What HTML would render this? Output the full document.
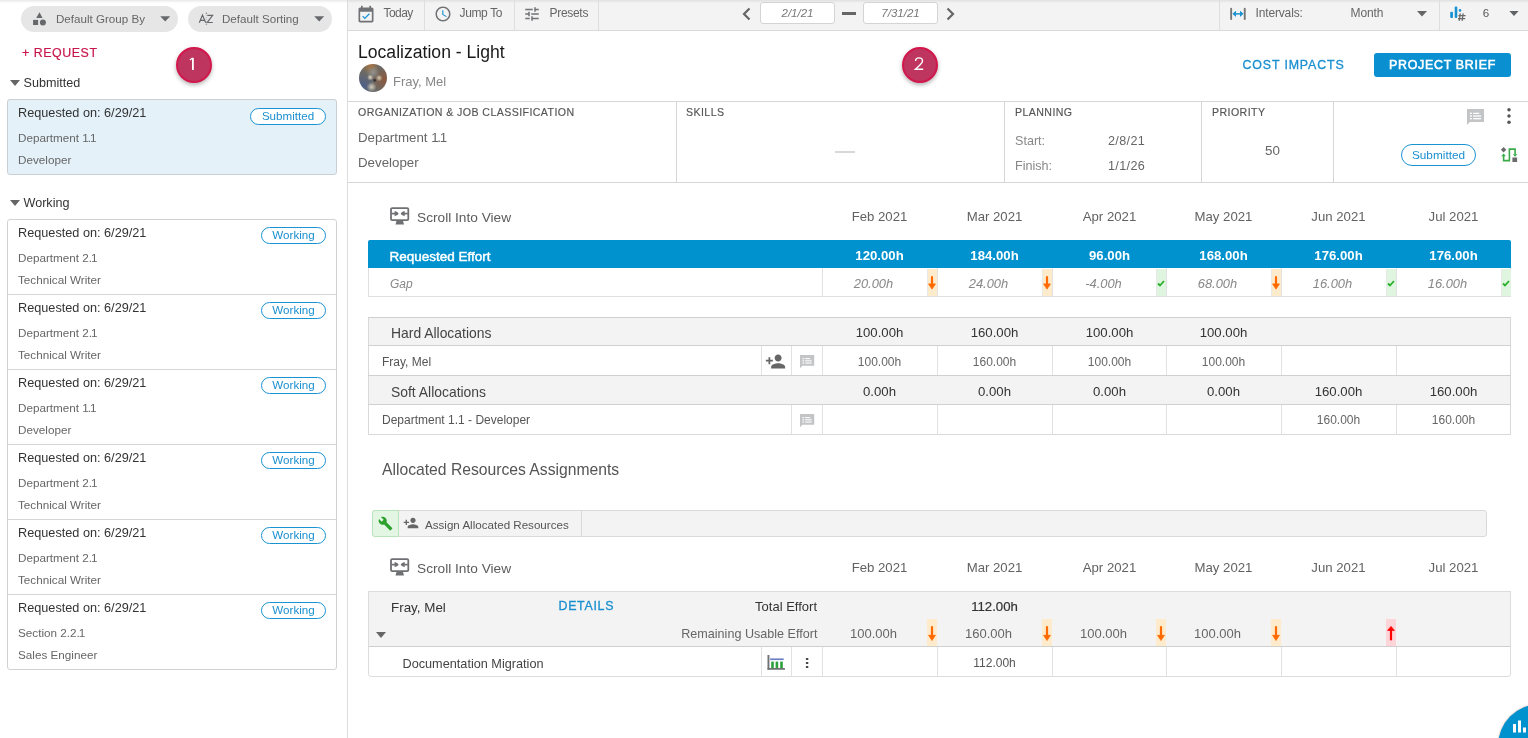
<!DOCTYPE html>
<html><head><meta charset="utf-8"><style>
html,body{margin:0;padding:0;width:1528px;height:738px;overflow:hidden;background:#fff;}
body{position:relative;font-family:"Liberation Sans",sans-serif;}
#w{position:absolute;left:0;top:0;width:1528px;height:738px;will-change:transform;}
.t{position:absolute;white-space:nowrap;}
.r{position:absolute;}
</style></head><body><div id="w">
<div class="r" style="left:0px;top:0px;width:347px;height:3px;background:linear-gradient(#e8e8e8, rgba(255,255,255,0))"></div>
<div class="r" style="left:21px;top:6px;width:157px;height:26px;background:#e6e6e6;border-radius:13px"></div>
<div class="r" style="left:188px;top:6px;width:144px;height:26px;background:#e6e6e6;border-radius:13px"></div>
<svg class="r" style="left:32px;top:10px" width="15" height="17" viewBox="0 0 15 17"><path d="M7.5 2.3 L10.5 7.9 H4.2Z" fill="#66686c"/><rect x="1.1" y="9.9" width="5" height="5.1" fill="#66686c"/><circle cx="10.9" cy="12.6" r="3" fill="#66686c"/></svg>
<div class="t" style="left:56px;top:10.98px;font-size:11.6px;line-height:16px;color:#666;">Default Group By</div>
<svg class="r" style="left:160px;top:15.5px" width="11" height="7" viewBox="0 0 11 7"><path d="M0.2 0.3 L10.2 0.3 L5.2 5.6Z" fill="#66686c"/></svg>
<svg class="r" style="left:197px;top:11px" width="18" height="16" viewBox="0 0 18 16"><path d="M2.3 11.8 L5.5 4 L8.7 11.8 M3.4 9.3 H7.6 M10.3 4.3 H15.6 L10.3 11.5 H15.8" stroke="#66686c" stroke-width="1.2" fill="none"/><path d="M8.3 2.4 L9.4 1.6 L10.5 2.4Z M8.3 13.2 L9.4 14 L10.5 13.2Z" fill="#66686c"/><path d="M9.4 2.2 V13.5" stroke="#66686c" stroke-width="0.4" stroke-dasharray="0.8 1.2"/></svg>
<div class="t" style="left:222px;top:10.98px;font-size:11.6px;line-height:16px;color:#666;">Default Sorting</div>
<svg class="r" style="left:314px;top:15.5px" width="11" height="7" viewBox="0 0 11 7"><path d="M0.2 0.3 L10.2 0.3 L5.2 5.6Z" fill="#66686c"/></svg>
<div class="t" style="left:22px;top:44.50px;font-size:12.4px;line-height:17px;color:#c8174b;letter-spacing:0.55px;-webkit-text-stroke:0.2px #c8174b;">+ REQUEST</div>
<svg class="r" style="left:10px;top:80px" width="10" height="6" viewBox="0 0 10 6"><path d="M0 0 L10 0 L5 6Z" fill="#666"/></svg>
<div class="t" style="left:23.5px;top:73.83px;font-size:12.6px;line-height:18px;color:#333;">Submitted</div>
<div class="r" style="left:7px;top:99px;width:330px;height:76px;box-sizing:border-box;background:#e4f1f9;border:1px solid #c9cfd3;border-radius:3px"></div>
<div class="t" style="left:18px;top:103.60px;font-size:12.7px;line-height:18px;color:#333;">Requested on: 6/29/21</div>
<div class="t" style="left:18px;top:129.95px;font-size:11.7px;line-height:16px;color:#666;">Department <span style="letter-spacing:-1.1px">1</span><span style="letter-spacing:-1.1px">.</span>1</div>
<div class="t" style="left:18px;top:152.25px;font-size:11.7px;line-height:16px;color:#666;">Developer</div>
<div class="r" style="left:250px;top:108px;width:76px;height:17px;box-sizing:border-box;background:#fff;border:1.3px solid #1a93d2;border-radius:9px"></div>
<div class="t" style="left:250px;top:107.98px;font-size:11.6px;line-height:16px;color:#1a8fcf;width:76px;text-align:center;">Submitted</div>
<svg class="r" style="left:10px;top:200px" width="10" height="6" viewBox="0 0 10 6"><path d="M0 0 L10 0 L5 6Z" fill="#666"/></svg>
<div class="t" style="left:23.5px;top:193.83px;font-size:12.6px;line-height:18px;color:#333;">Working</div>
<div class="r" style="left:7px;top:219px;width:330px;height:451px;box-sizing:border-box;background:#fff;border:1px solid #cfd3d6;border-radius:3px"></div>
<div class="t" style="left:18px;top:223.60px;font-size:12.7px;line-height:18px;color:#333;">Requested on: 6/29/21</div>
<div class="t" style="left:18px;top:249.95px;font-size:11.7px;line-height:16px;color:#666;">Department 2<span style="letter-spacing:-1.1px">.</span>1</div>
<div class="t" style="left:18px;top:272.25px;font-size:11.7px;line-height:16px;color:#666;">Technical Writer</div>
<div class="r" style="left:261px;top:227px;width:65px;height:17px;box-sizing:border-box;background:#fff;border:1.3px solid #1a93d2;border-radius:9px"></div>
<div class="t" style="left:261px;top:226.98px;font-size:11.6px;line-height:16px;color:#1a8fcf;width:65px;text-align:center;">Working</div>
<div class="r" style="left:8px;top:294px;width:328px;height:1px;background:#d5d5d5"></div>
<div class="t" style="left:18px;top:298.60px;font-size:12.7px;line-height:18px;color:#333;">Requested on: 6/29/21</div>
<div class="t" style="left:18px;top:324.95px;font-size:11.7px;line-height:16px;color:#666;">Department 2<span style="letter-spacing:-1.1px">.</span>1</div>
<div class="t" style="left:18px;top:347.25px;font-size:11.7px;line-height:16px;color:#666;">Technical Writer</div>
<div class="r" style="left:261px;top:302px;width:65px;height:17px;box-sizing:border-box;background:#fff;border:1.3px solid #1a93d2;border-radius:9px"></div>
<div class="t" style="left:261px;top:301.98px;font-size:11.6px;line-height:16px;color:#1a8fcf;width:65px;text-align:center;">Working</div>
<div class="r" style="left:8px;top:369px;width:328px;height:1px;background:#d5d5d5"></div>
<div class="t" style="left:18px;top:373.60px;font-size:12.7px;line-height:18px;color:#333;">Requested on: 6/29/21</div>
<div class="t" style="left:18px;top:399.95px;font-size:11.7px;line-height:16px;color:#666;">Department <span style="letter-spacing:-1.1px">1</span><span style="letter-spacing:-1.1px">.</span>1</div>
<div class="t" style="left:18px;top:422.25px;font-size:11.7px;line-height:16px;color:#666;">Developer</div>
<div class="r" style="left:261px;top:377px;width:65px;height:17px;box-sizing:border-box;background:#fff;border:1.3px solid #1a93d2;border-radius:9px"></div>
<div class="t" style="left:261px;top:376.98px;font-size:11.6px;line-height:16px;color:#1a8fcf;width:65px;text-align:center;">Working</div>
<div class="r" style="left:8px;top:444px;width:328px;height:1px;background:#d5d5d5"></div>
<div class="t" style="left:18px;top:448.60px;font-size:12.7px;line-height:18px;color:#333;">Requested on: 6/29/21</div>
<div class="t" style="left:18px;top:474.95px;font-size:11.7px;line-height:16px;color:#666;">Department 2<span style="letter-spacing:-1.1px">.</span>1</div>
<div class="t" style="left:18px;top:497.25px;font-size:11.7px;line-height:16px;color:#666;">Technical Writer</div>
<div class="r" style="left:261px;top:452px;width:65px;height:17px;box-sizing:border-box;background:#fff;border:1.3px solid #1a93d2;border-radius:9px"></div>
<div class="t" style="left:261px;top:451.98px;font-size:11.6px;line-height:16px;color:#1a8fcf;width:65px;text-align:center;">Working</div>
<div class="r" style="left:8px;top:519px;width:328px;height:1px;background:#d5d5d5"></div>
<div class="t" style="left:18px;top:523.60px;font-size:12.7px;line-height:18px;color:#333;">Requested on: 6/29/21</div>
<div class="t" style="left:18px;top:549.95px;font-size:11.7px;line-height:16px;color:#666;">Department 2<span style="letter-spacing:-1.1px">.</span>1</div>
<div class="t" style="left:18px;top:572.25px;font-size:11.7px;line-height:16px;color:#666;">Technical Writer</div>
<div class="r" style="left:261px;top:527px;width:65px;height:17px;box-sizing:border-box;background:#fff;border:1.3px solid #1a93d2;border-radius:9px"></div>
<div class="t" style="left:261px;top:526.98px;font-size:11.6px;line-height:16px;color:#1a8fcf;width:65px;text-align:center;">Working</div>
<div class="r" style="left:8px;top:594px;width:328px;height:1px;background:#d5d5d5"></div>
<div class="t" style="left:18px;top:598.60px;font-size:12.7px;line-height:18px;color:#333;">Requested on: 6/29/21</div>
<div class="t" style="left:18px;top:624.95px;font-size:11.7px;line-height:16px;color:#666;">Section 2.2<span style="letter-spacing:-1.1px">.</span>1</div>
<div class="t" style="left:18px;top:647.25px;font-size:11.7px;line-height:16px;color:#666;">Sales Engineer</div>
<div class="r" style="left:261px;top:602px;width:65px;height:17px;box-sizing:border-box;background:#fff;border:1.3px solid #1a93d2;border-radius:9px"></div>
<div class="t" style="left:261px;top:601.98px;font-size:11.6px;line-height:16px;color:#1a8fcf;width:65px;text-align:center;">Working</div>
<div class="r" style="left:347px;top:0px;width:1px;height:738px;background:#dcdcdc"></div>
<div class="r" style="left:348px;top:0px;width:1180px;height:30px;background:#f3f3f3;border-bottom:1px solid #d9d9d9"></div>
<div class="r" style="left:348px;top:0px;width:1180px;height:3px;background:linear-gradient(#e0e0e0, rgba(243,243,243,0))"></div>
<div class="r" style="left:424px;top:0px;width:1px;height:30px;background:#dedede"></div>
<div class="r" style="left:514px;top:0px;width:1px;height:30px;background:#dedede"></div>
<div class="r" style="left:598px;top:0px;width:1px;height:30px;background:#dedede"></div>
<div class="r" style="left:1219px;top:0px;width:1px;height:30px;background:#dedede"></div>
<div class="r" style="left:1439px;top:0px;width:1px;height:30px;background:#dedede"></div>
<svg class="r" style="left:356px;top:5px" width="20" height="20" viewBox="0 0 24 24"><path fill="#707275" d="M19 3h-1V1h-2v2H8V1H6v2H5c-1.11 0-1.99.9-1.99 2L3 19c0 1.1.89 2 2 2h14c1.1 0 2-.9 2-2V5c0-1.1-.9-2-2-2zm0 16H5V8h14v11z"/><path fill="#1a93d2" d="M16.53 11.06L15.47 10l-4.88 4.88-2.120-2.12-1.06 1.06L10.59 17l5.94-5.94z"/></svg>
<div class="t" style="left:383.5px;top:4.84px;font-size:12.0px;line-height:17px;color:#666;letter-spacing:-0.55px;">Today</div>
<svg class="r" style="left:434px;top:5px" width="18" height="18" viewBox="0 0 24 24"><path fill="#707275" d="M11.99 2C6.47 2 2 6.48 2 12s4.47 10 9.99 10C17.52 22 22 17.52 22 12S17.52 2 11.99 2zM12 20c-4.42 0-8-3.58-8-8s3.58-8 8-8 8 3.58 8 8-3.58 8-8 8z"/><path fill="#1a93d2" d="M12.5 7H11v6l5.25 3.15.75-1.23-4.5-2.67z"/></svg>
<div class="t" style="left:459.5px;top:4.84px;font-size:12.0px;line-height:17px;color:#666;letter-spacing:-0.35px;">Jump To</div>
<svg class="r" style="left:523px;top:5px" width="18" height="18" viewBox="0 0 24 24"><path fill="#707275" d="M3 17v2h6v-2H3zM3 5v2h10V5H3zm10 16v-2h8v-2h-8v-2h-2v6h2zM7 9v2H3v2h4v2h2V9H7zm14 4v-2H11v2h10zm-6-4h2V7h4V5h-4V3h-2v6z"/></svg>
<div class="t" style="left:549.5px;top:4.84px;font-size:12.0px;line-height:17px;color:#666;letter-spacing:-0.3px;">Presets</div>
<svg class="r" style="left:741px;top:7px" width="11" height="14" viewBox="0 0 11 14"><path d="M8.5 1.5 L3 7 L8.5 12.5" stroke="#666" stroke-width="2.2" fill="none"/></svg>
<div class="r" style="left:760px;top:2px;width:75px;height:22px;box-sizing:border-box;background:#fff;border:1px solid #d4d4d4;border-radius:3px"></div>
<div class="t" style="left:760px;top:5.02px;font-size:11.5px;line-height:16px;color:#777;font-style:italic;width:75px;text-align:center;">2/1/21</div>
<div class="r" style="left:842px;top:12px;width:14px;height:3px;background:#666"></div>
<div class="r" style="left:863px;top:2px;width:75px;height:22px;box-sizing:border-box;background:#fff;border:1px solid #d4d4d4;border-radius:3px"></div>
<div class="t" style="left:863px;top:5.02px;font-size:11.5px;line-height:16px;color:#777;font-style:italic;width:75px;text-align:center;">7/31/21</div>
<svg class="r" style="left:945px;top:7px" width="11" height="14" viewBox="0 0 11 14"><path d="M2.5 1.5 L8 7 L2.5 12.5" stroke="#666" stroke-width="2.2" fill="none"/></svg>
<svg class="r" style="left:1228px;top:6px" width="20" height="16" viewBox="0 0 20 16"><rect x="2.2" y="1.8" width="1.9" height="12.1" rx="0.9" fill="#777"/><rect x="15.8" y="1.8" width="1.9" height="12.1" rx="0.9" fill="#777"/><path d="M6.5 7.85 H13.5" stroke="#1a93d2" stroke-width="1.5"/><path d="M4.4 7.85 L8 4.8 V10.9Z M15.6 7.85 L12 4.8 V10.9Z" fill="#1a93d2"/></svg>
<div class="t" style="left:1255.5px;top:4.84px;font-size:12.0px;line-height:17px;color:#666;letter-spacing:-0.15px;">Intervals:</div>
<div class="t" style="left:1350.5px;top:4.84px;font-size:12.0px;line-height:17px;color:#666;letter-spacing:-0.1px;">Month</div>
<svg class="r" style="left:1417px;top:11px" width="10" height="6" viewBox="0 0 10 6"><path d="M0 0 L10 0 L5 5.5Z" fill="#666"/></svg>
<svg class="r" style="left:1448px;top:5px" width="20" height="18" viewBox="0 0 20 18"><rect x="2.2" y="6.8" width="2.8" height="6.2" rx="1" fill="#1a93d2"/><rect x="6.7" y="1.5" width="2.6" height="11.5" rx="1" fill="#1a93d2"/><circle cx="12" cy="5.4" r="1.3" fill="#1a93d2"/><path d="M12.3 8.4 L11.2 15.8 M15.2 8.4 L14.1 15.8 M10.4 10.6 H17.6 M10 13.6 H17.2" stroke="#6a6a6a" stroke-width="1.25"/></svg>
<div class="t" style="left:1482.8px;top:4.98px;font-size:11.6px;line-height:16px;color:#555;">6</div>
<svg class="r" style="left:1509px;top:11px" width="10" height="6" viewBox="0 0 10 6"><path d="M0.4 0 L9.6 0 L5 5Z" fill="#5f6366"/></svg>
<div class="t" style="left:358px;top:39.80px;font-size:17.6px;line-height:25px;color:#1a1a1a;">Localization - Light</div>
<div class="r" style="left:359px;top:64px;width:28px;height:28px;border-radius:50%;background:radial-gradient(circle at 56% 58%, rgba(20,20,25,0.9) 0%, rgba(20,20,25,0) 9%),radial-gradient(circle at 40% 48%, rgba(235,225,200,0.95) 0%, rgba(235,225,200,0) 14%),radial-gradient(circle at 72% 50%, rgba(225,215,185,0.9) 0%, rgba(225,215,185,0) 14%),radial-gradient(circle at 45% 82%, rgba(225,215,190,0.9) 0%, rgba(225,215,190,0) 18%),radial-gradient(circle at 50% 30%, rgba(150,150,145,0.9) 0%, rgba(150,150,145,0) 28%),radial-gradient(circle at 92% 55%, #8d5a3e 0%, rgba(141,90,62,0) 45%),radial-gradient(circle at 12% 78%, #4d6088 0%, rgba(77,96,136,0) 40%),radial-gradient(circle at 40% 5%, #a87440 0%, rgba(168,116,64,0) 30%),#6a6966"></div>
<div class="t" style="left:393px;top:72.50px;font-size:13px;line-height:18px;color:#888;">Fray, Mel</div>
<div class="t" style="left:1242.5px;top:56.70px;font-size:12.4px;line-height:17px;color:#1a8fcf;letter-spacing:0.85px;-webkit-text-stroke:0.3px #1a8fcf;">COST IMPACTS</div>
<div class="r" style="left:1374px;top:53px;width:137px;height:24px;background:#0a8fd0;border-radius:3px"></div>
<div class="t" style="left:1374px;top:56.70px;font-size:12.4px;line-height:17px;color:#fff;letter-spacing:0.72px;width:137px;text-align:center;-webkit-text-stroke:0.55px #fff;">PROJECT BRIEF</div>
<div class="r" style="left:348px;top:101px;width:1180px;height:1px;background:#d6d6d6"></div>
<div class="r" style="left:348px;top:182px;width:1180px;height:1px;background:#d6d6d6"></div>
<div class="r" style="left:676px;top:102px;width:1px;height:80px;background:#d6d6d6"></div>
<div class="r" style="left:1004px;top:102px;width:1px;height:80px;background:#d6d6d6"></div>
<div class="r" style="left:1201px;top:102px;width:1px;height:80px;background:#d6d6d6"></div>
<div class="r" style="left:1333px;top:102px;width:1px;height:80px;background:#d6d6d6"></div>
<div class="t" style="left:358px;top:104.73px;font-size:10.6px;line-height:15px;color:#555;letter-spacing:0.42px;-webkit-text-stroke:0.15px #555;">ORGANIZATION &amp; JOB CLASSIFICATION</div>
<div class="t" style="left:358px;top:127.89px;font-size:13.3px;line-height:19px;color:#666;">Department <span style="letter-spacing:-1.3px">1</span><span style="letter-spacing:-1.3px">.</span>1</div>
<div class="t" style="left:358px;top:152.89px;font-size:13.3px;line-height:19px;color:#666;">Developer</div>
<div class="t" style="left:686px;top:104.73px;font-size:10.6px;line-height:15px;color:#555;letter-spacing:0.42px;-webkit-text-stroke:0.15px #555;">SKILLS</div>
<div class="r" style="left:835px;top:151px;width:20px;height:2px;background:#d8d8d8"></div>
<div class="t" style="left:1015px;top:104.73px;font-size:10.6px;line-height:15px;color:#555;letter-spacing:0.42px;-webkit-text-stroke:0.15px #555;">PLANNING</div>
<div class="t" style="left:1015px;top:132.33px;font-size:12.6px;line-height:18px;color:#888;">Start:</div>
<div class="t" style="left:1108px;top:132.33px;font-size:12.6px;line-height:18px;color:#666;letter-spacing:0.35px;">2/8/21</div>
<div class="t" style="left:1015px;top:156.83px;font-size:12.6px;line-height:18px;color:#888;">Finish:</div>
<div class="t" style="left:1108px;top:156.83px;font-size:12.6px;line-height:18px;color:#666;letter-spacing:0.35px;">1/1/26</div>
<div class="t" style="left:1212px;top:104.73px;font-size:10.6px;line-height:15px;color:#555;letter-spacing:0.42px;-webkit-text-stroke:0.15px #555;">PRIORITY</div>
<div class="t" style="left:1207px;top:140.86px;font-size:13.4px;line-height:19px;color:#666;width:131px;text-align:center;">50</div>
<svg class="r" style="left:1467.1px;top:108.5px" width="18" height="17" viewBox="0 0 18 17"><g transform="scale(1.2)"><path d="M0 0.3 Q0 0 0.3 0 H13.9 Q14.2 0 14.2 0.3 V10.5 Q14.2 10.8 13.9 10.8 H2.4 L0 13.3Z" fill="#c3c4c6"/><g fill="#fff"><rect x="2.4" y="3.1" width="1.8" height="1.1"/><rect x="5.2" y="3.1" width="5" height="1.1"/><rect x="2.4" y="5.3" width="1.8" height="1.1"/><rect x="5.2" y="5.3" width="6.5" height="1.1"/><rect x="2.4" y="7.5" width="1.8" height="1.1"/><rect x="5.2" y="7.5" width="6.5" height="1.1"/></g></g></svg>
<svg class="r" style="left:1505px;top:106px" width="8" height="20" viewBox="0 0 8 20"><circle cx="4" cy="3.7" r="1.75" fill="#555"/><circle cx="4" cy="10" r="1.75" fill="#555"/><circle cx="4" cy="16.3" r="1.75" fill="#555"/></svg>
<div class="r" style="left:1401px;top:144px;width:75px;height:22px;box-sizing:border-box;background:#fff;border:1.3px solid #1a93d2;border-radius:11px"></div>
<div class="t" style="left:1401px;top:146.91px;font-size:11.8px;line-height:17px;color:#1a8fcf;width:75px;text-align:center;">Submitted</div>
<svg class="r" style="left:1500px;top:146px" width="19" height="18" viewBox="0 0 19 18"><path d="M3.6 1 L6.3 3.7 L3.6 6.4 L0.9 3.7Z" fill="#6a6b6e"/><rect x="12.4" y="11.5" width="4.7" height="4.5" fill="#6a6b6e"/><path d="M3.6 9.5 V14.6 H9.4 V3.1 H15.1 V8.5" stroke="#3aaa48" stroke-width="1.6" fill="none"/><path d="M12.8 8.3 L17.4 8.3 L15.1 10.8Z" fill="#3aaa48"/><path d="M1.3 10.2 L5.9 10.2 L3.6 7.6Z" fill="#3aaa48"/></svg>
<svg class="r" style="left:390px;top:207px" width="20" height="18" viewBox="0 0 20 18"><rect x="1" y="1.1" width="17.3" height="12" rx="1.2" stroke="#6f7073" stroke-width="1.8" fill="none"/><rect x="1.5" y="5.75" width="3.8" height="1.7" fill="#6f7073"/><path d="M4.6 3.9 C7 4.6 8.4 5.6 8.6 6.6 C8.4 7.6 7 8.6 4.6 9.3Z" fill="#6f7073"/><rect x="14" y="5.75" width="3.8" height="1.7" fill="#6f7073"/><path d="M14.7 3.9 C12.3 4.6 10.9 5.6 10.7 6.6 C10.9 7.6 12.3 8.6 14.7 9.3Z" fill="#6f7073"/><path d="M6.5 13.9 H13 L14 17.6 H5.5Z" fill="#6f7073"/></svg>
<div class="t" style="left:417px;top:207.55px;font-size:13.7px;line-height:19px;color:#5c5c5c;">Scroll Into View</div>
<div class="t" style="left:822px;top:208.23px;font-size:13.2px;line-height:18px;color:#626262;width:115px;text-align:center;">Feb 2021</div>
<div class="t" style="left:937px;top:208.23px;font-size:13.2px;line-height:18px;color:#626262;width:115px;text-align:center;">Mar 2021</div>
<div class="t" style="left:1052px;top:208.23px;font-size:13.2px;line-height:18px;color:#626262;width:115px;text-align:center;">Apr 2021</div>
<div class="t" style="left:1166px;top:208.23px;font-size:13.2px;line-height:18px;color:#626262;width:115px;text-align:center;">May 2021</div>
<div class="t" style="left:1281px;top:208.23px;font-size:13.2px;line-height:18px;color:#626262;width:115px;text-align:center;">Jun 2021</div>
<div class="t" style="left:1396px;top:208.23px;font-size:13.2px;line-height:18px;color:#626262;width:115px;text-align:center;">Jul 2021</div>
<div class="r" style="left:368px;top:240px;width:1143px;height:28px;background:#0091cf;border-radius:2px 2px 0 0"></div>
<div class="t" style="left:389.5px;top:246.82px;font-size:13.5px;line-height:19px;color:#fff;-webkit-text-stroke:0.45px #fff;">Requested Effort</div>
<div class="t" style="left:822px;top:246.93px;font-size:13.2px;line-height:18px;color:#fff;font-weight:700;width:115px;text-align:center;">120.00h</div>
<div class="t" style="left:937px;top:246.93px;font-size:13.2px;line-height:18px;color:#fff;font-weight:700;width:115px;text-align:center;">184.00h</div>
<div class="t" style="left:1052px;top:246.93px;font-size:13.2px;line-height:18px;color:#fff;font-weight:700;width:115px;text-align:center;">96.00h</div>
<div class="t" style="left:1166px;top:246.93px;font-size:13.2px;line-height:18px;color:#fff;font-weight:700;width:115px;text-align:center;">168.00h</div>
<div class="t" style="left:1281px;top:246.93px;font-size:13.2px;line-height:18px;color:#fff;font-weight:700;width:115px;text-align:center;">176.00h</div>
<div class="t" style="left:1396px;top:246.93px;font-size:13.2px;line-height:18px;color:#fff;font-weight:700;width:115px;text-align:center;">176.00h</div>
<div class="r" style="left:368px;top:268px;width:1143px;height:29px;box-sizing:border-box;background:#fff;border:1px solid #e0e0e0;border-top:none"></div>
<div class="t" style="left:390px;top:275.84px;font-size:12px;line-height:17px;color:#888;font-style:italic;">Gap</div>
<div class="r" style="left:822px;top:268px;width:1px;height:28px;background:#e2e2e2"></div>
<div class="r" style="left:927px;top:269px;width:10px;height:27px;background:#feebcc;border-left:1px solid #e8e8e8;box-sizing:border-box"></div>
<svg class="r" style="left:927.2px;top:275.4px" width="10" height="15.5" viewBox="0 0 10 15.5"><path d="M5 2.1 V10.00" stroke="#ff6a00" stroke-width="2.2" stroke-linecap="round"/><path d="M1.6 8.90 H8.4 L5 14.10Z" fill="#ff6a00" stroke="#ff6a00" stroke-width="0.8" stroke-linejoin="round"/></svg>
<div class="t" style="left:821px;top:274.53px;font-size:12.9px;line-height:18px;color:#888;font-style:italic;width:105px;text-align:center;">20.00h</div>
<div class="r" style="left:937px;top:268px;width:1px;height:28px;background:#e2e2e2"></div>
<div class="r" style="left:1042px;top:269px;width:10px;height:27px;background:#feebcc;border-left:1px solid #e8e8e8;box-sizing:border-box"></div>
<svg class="r" style="left:1042.2px;top:275.4px" width="10" height="15.5" viewBox="0 0 10 15.5"><path d="M5 2.1 V10.00" stroke="#ff6a00" stroke-width="2.2" stroke-linecap="round"/><path d="M1.6 8.90 H8.4 L5 14.10Z" fill="#ff6a00" stroke="#ff6a00" stroke-width="0.8" stroke-linejoin="round"/></svg>
<div class="t" style="left:936px;top:274.53px;font-size:12.9px;line-height:18px;color:#888;font-style:italic;width:105px;text-align:center;">24.00h</div>
<div class="r" style="left:1052px;top:268px;width:1px;height:28px;background:#e2e2e2"></div>
<div class="r" style="left:1156px;top:269px;width:10px;height:27px;background:#e0f5e0;border-left:1px solid #e8e8e8;box-sizing:border-box"></div>
<svg class="r" style="left:1157px;top:280px" width="8" height="7" viewBox="0 0 8 7"><path d="M1 3.5 L3 5.5 L7 1" stroke="#28b028" stroke-width="1.8" fill="none"/></svg>
<div class="t" style="left:1051px;top:274.53px;font-size:12.9px;line-height:18px;color:#888;font-style:italic;width:105px;text-align:center;">-4.00h</div>
<div class="r" style="left:1166px;top:268px;width:1px;height:28px;background:#e2e2e2"></div>
<div class="r" style="left:1271px;top:269px;width:10px;height:27px;background:#feebcc;border-left:1px solid #e8e8e8;box-sizing:border-box"></div>
<svg class="r" style="left:1271.2px;top:275.4px" width="10" height="15.5" viewBox="0 0 10 15.5"><path d="M5 2.1 V10.00" stroke="#ff6a00" stroke-width="2.2" stroke-linecap="round"/><path d="M1.6 8.90 H8.4 L5 14.10Z" fill="#ff6a00" stroke="#ff6a00" stroke-width="0.8" stroke-linejoin="round"/></svg>
<div class="t" style="left:1165px;top:274.53px;font-size:12.9px;line-height:18px;color:#888;font-style:italic;width:105px;text-align:center;">68.00h</div>
<div class="r" style="left:1281px;top:268px;width:1px;height:28px;background:#e2e2e2"></div>
<div class="r" style="left:1386px;top:269px;width:10px;height:27px;background:#e0f5e0;border-left:1px solid #e8e8e8;box-sizing:border-box"></div>
<svg class="r" style="left:1387px;top:280px" width="8" height="7" viewBox="0 0 8 7"><path d="M1 3.5 L3 5.5 L7 1" stroke="#28b028" stroke-width="1.8" fill="none"/></svg>
<div class="t" style="left:1280px;top:274.53px;font-size:12.9px;line-height:18px;color:#888;font-style:italic;width:105px;text-align:center;">16.00h</div>
<div class="r" style="left:1396px;top:268px;width:1px;height:28px;background:#e2e2e2"></div>
<div class="r" style="left:1501px;top:269px;width:10px;height:27px;background:#e0f5e0;border-left:1px solid #e8e8e8;box-sizing:border-box"></div>
<svg class="r" style="left:1502px;top:280px" width="8" height="7" viewBox="0 0 8 7"><path d="M1 3.5 L3 5.5 L7 1" stroke="#28b028" stroke-width="1.8" fill="none"/></svg>
<div class="t" style="left:1395px;top:274.53px;font-size:12.9px;line-height:18px;color:#888;font-style:italic;width:105px;text-align:center;">16.00h</div>
<div class="r" style="left:368px;top:317px;width:1143px;height:118px;box-sizing:border-box;background:#fff;border:1px solid #d9d9d9"></div>
<div class="r" style="left:369px;top:318px;width:1141px;height:28px;background:#f3f3f3"></div>
<div class="r" style="left:368px;top:345px;width:1143px;height:1px;background:#d0d0d0"></div>
<div class="r" style="left:368px;top:317px;width:1143px;height:1px;background:#cfcfcf"></div>
<div class="t" style="left:391px;top:323.88px;font-size:13.9px;line-height:19px;color:#444;">Hard Allocations</div>
<div class="t" style="left:822px;top:323.73px;font-size:13.2px;line-height:18px;color:#333;width:115px;text-align:center;">100.00h</div>
<div class="t" style="left:937px;top:323.73px;font-size:13.2px;line-height:18px;color:#333;width:115px;text-align:center;">160.00h</div>
<div class="t" style="left:1052px;top:323.73px;font-size:13.2px;line-height:18px;color:#333;width:115px;text-align:center;">100.00h</div>
<div class="t" style="left:1166px;top:323.73px;font-size:13.2px;line-height:18px;color:#333;width:115px;text-align:center;">100.00h</div>
<div class="t" style="left:382px;top:354.14px;font-size:12px;line-height:17px;color:#555;">Fray, Mel</div>
<div class="r" style="left:761px;top:346px;width:1px;height:29px;background:#e2e2e2"></div>
<div class="r" style="left:791px;top:346px;width:1px;height:29px;background:#e2e2e2"></div>
<div class="r" style="left:822px;top:346px;width:1px;height:29px;background:#e2e2e2"></div>
<div class="r" style="left:937px;top:346px;width:1px;height:29px;background:#e2e2e2"></div>
<div class="r" style="left:1052px;top:346px;width:1px;height:29px;background:#e2e2e2"></div>
<div class="r" style="left:1166px;top:346px;width:1px;height:29px;background:#e2e2e2"></div>
<div class="r" style="left:1281px;top:346px;width:1px;height:29px;background:#e2e2e2"></div>
<div class="r" style="left:1396px;top:346px;width:1px;height:29px;background:#e2e2e2"></div>
<div class="t" style="left:822px;top:353.84px;font-size:12px;line-height:17px;color:#666;width:115px;text-align:center;">100.00h</div>
<div class="t" style="left:937px;top:353.84px;font-size:12px;line-height:17px;color:#666;width:115px;text-align:center;">160.00h</div>
<div class="t" style="left:1052px;top:353.84px;font-size:12px;line-height:17px;color:#666;width:115px;text-align:center;">100.00h</div>
<div class="t" style="left:1166px;top:353.84px;font-size:12px;line-height:17px;color:#666;width:115px;text-align:center;">100.00h</div>
<svg class="r" style="left:765px;top:351px" width="21" height="21" viewBox="0 0 24 24"><path fill="#666" d="M15 12c2.21 0 4-1.79 4-4s-1.79-4-4-4-4 1.79-4 4 1.79 4 4 4zm-9-2V7H4v3H1v2h3v3h2v-3h3v-2H6zm9 4c-2.67 0-8 1.34-8 4v2h16v-2c0-2.66-5.33-4-8-4z"/></svg>
<svg class="r" style="left:799.8px;top:355px" width="15" height="14" viewBox="0 0 15 14"><g transform="scale(1.0)"><path d="M0 0.3 Q0 0 0.3 0 H13.9 Q14.2 0 14.2 0.3 V10.5 Q14.2 10.8 13.9 10.8 H2.4 L0 13.3Z" fill="#c3c4c6"/><g fill="#fff"><rect x="2.4" y="3.1" width="1.8" height="1.1"/><rect x="5.2" y="3.1" width="5" height="1.1"/><rect x="2.4" y="5.3" width="1.8" height="1.1"/><rect x="5.2" y="5.3" width="6.5" height="1.1"/><rect x="2.4" y="7.5" width="1.8" height="1.1"/><rect x="5.2" y="7.5" width="6.5" height="1.1"/></g></g></svg>
<div class="r" style="left:369px;top:376px;width:1141px;height:28px;background:#f3f3f3"></div>
<div class="r" style="left:368px;top:375px;width:1143px;height:1px;background:#d0d0d0"></div>
<div class="r" style="left:368px;top:404px;width:1143px;height:1px;background:#d0d0d0"></div>
<div class="t" style="left:391px;top:382.88px;font-size:13.9px;line-height:19px;color:#444;">Soft Allocations</div>
<div class="t" style="left:822px;top:382.73px;font-size:13.2px;line-height:18px;color:#333;width:115px;text-align:center;">0.00h</div>
<div class="t" style="left:937px;top:382.73px;font-size:13.2px;line-height:18px;color:#333;width:115px;text-align:center;">0.00h</div>
<div class="t" style="left:1052px;top:382.73px;font-size:13.2px;line-height:18px;color:#333;width:115px;text-align:center;">0.00h</div>
<div class="t" style="left:1166px;top:382.73px;font-size:13.2px;line-height:18px;color:#333;width:115px;text-align:center;">0.00h</div>
<div class="t" style="left:1281px;top:382.73px;font-size:13.2px;line-height:18px;color:#333;width:115px;text-align:center;">160.00h</div>
<div class="t" style="left:1396px;top:382.73px;font-size:13.2px;line-height:18px;color:#333;width:115px;text-align:center;">160.00h</div>
<div class="t" style="left:382px;top:411.54px;font-size:12px;line-height:17px;color:#555;">Department 1.1 - Developer</div>
<div class="r" style="left:791px;top:405px;width:1px;height:29px;background:#e2e2e2"></div>
<div class="r" style="left:822px;top:405px;width:1px;height:29px;background:#e2e2e2"></div>
<div class="r" style="left:937px;top:405px;width:1px;height:29px;background:#e2e2e2"></div>
<div class="r" style="left:1052px;top:405px;width:1px;height:29px;background:#e2e2e2"></div>
<div class="r" style="left:1166px;top:405px;width:1px;height:29px;background:#e2e2e2"></div>
<div class="r" style="left:1281px;top:405px;width:1px;height:29px;background:#e2e2e2"></div>
<div class="r" style="left:1396px;top:405px;width:1px;height:29px;background:#e2e2e2"></div>
<div class="t" style="left:1281px;top:411.84px;font-size:12px;line-height:17px;color:#666;width:115px;text-align:center;">160.00h</div>
<div class="t" style="left:1396px;top:411.84px;font-size:12px;line-height:17px;color:#666;width:115px;text-align:center;">160.00h</div>
<svg class="r" style="left:799.8px;top:414.1px" width="15" height="14" viewBox="0 0 15 14"><g transform="scale(1.0)"><path d="M0 0.3 Q0 0 0.3 0 H13.9 Q14.2 0 14.2 0.3 V10.5 Q14.2 10.8 13.9 10.8 H2.4 L0 13.3Z" fill="#c3c4c6"/><g fill="#fff"><rect x="2.4" y="3.1" width="1.8" height="1.1"/><rect x="5.2" y="3.1" width="5" height="1.1"/><rect x="2.4" y="5.3" width="1.8" height="1.1"/><rect x="5.2" y="5.3" width="6.5" height="1.1"/><rect x="2.4" y="7.5" width="1.8" height="1.1"/><rect x="5.2" y="7.5" width="6.5" height="1.1"/></g></g></svg>
<div class="t" style="left:382px;top:458.66px;font-size:15.7px;line-height:22px;color:#555;">Allocated Resources Assignments</div>
<div class="r" style="left:372px;top:510px;width:1115px;height:27px;box-sizing:border-box;background:#f3f3f3;border:1px solid #d9d9d9;border-radius:3px"></div>
<div class="r" style="left:372px;top:510px;width:27px;height:27px;box-sizing:border-box;background:#e3f6e3;border:1px solid #b9e3b9;border-radius:3px 0 0 3px"></div>
<svg class="r" style="left:378px;top:516px" width="15" height="15" viewBox="0 0 24 24"><path fill="#2ca02c" d="M22.7 19l-9.1-9.1c.9-2.3.4-5-1.5-6.9-2-2-5-2.4-7.4-1.3L9 6 6 9 1.6 4.7C.4 7.1.9 10.1 2.9 12.1c1.9 1.9 4.6 2.4 6.9 1.5l9.1 9.1c.4.4 1 .4 1.4 0l2.3-2.3c.5-.4.5-1.1.1-1.4z"/></svg>
<svg class="r" style="left:403px;top:514.5px" width="16" height="16" viewBox="0 0 24 24"><path fill="#666" d="M15 12c2.21 0 4-1.79 4-4s-1.79-4-4-4-4 1.79-4 4 1.79 4 4 4zm-9-2V7H4v3H1v2h3v3h2v-3h3v-2H6zm9 4c-2.67 0-8 1.34-8 4v2h16v-2c0-2.66-5.33-4-8-4z"/></svg>
<div class="t" style="left:425px;top:517.18px;font-size:11.6px;line-height:16px;color:#555;">Assign Allocated Resources</div>
<div class="r" style="left:581px;top:511px;width:1px;height:25px;background:#d9d9d9"></div>
<svg class="r" style="left:390px;top:558px" width="20" height="18" viewBox="0 0 20 18"><rect x="1" y="1.1" width="17.3" height="12" rx="1.2" stroke="#6f7073" stroke-width="1.8" fill="none"/><rect x="1.5" y="5.75" width="3.8" height="1.7" fill="#6f7073"/><path d="M4.6 3.9 C7 4.6 8.4 5.6 8.6 6.6 C8.4 7.6 7 8.6 4.6 9.3Z" fill="#6f7073"/><rect x="14" y="5.75" width="3.8" height="1.7" fill="#6f7073"/><path d="M14.7 3.9 C12.3 4.6 10.9 5.6 10.7 6.6 C10.9 7.6 12.3 8.6 14.7 9.3Z" fill="#6f7073"/><path d="M6.5 13.9 H13 L14 17.6 H5.5Z" fill="#6f7073"/></svg>
<div class="t" style="left:417px;top:558.55px;font-size:13.7px;line-height:19px;color:#5c5c5c;">Scroll Into View</div>
<div class="t" style="left:822px;top:559.23px;font-size:13.2px;line-height:18px;color:#626262;width:115px;text-align:center;">Feb 2021</div>
<div class="t" style="left:937px;top:559.23px;font-size:13.2px;line-height:18px;color:#626262;width:115px;text-align:center;">Mar 2021</div>
<div class="t" style="left:1052px;top:559.23px;font-size:13.2px;line-height:18px;color:#626262;width:115px;text-align:center;">Apr 2021</div>
<div class="t" style="left:1166px;top:559.23px;font-size:13.2px;line-height:18px;color:#626262;width:115px;text-align:center;">May 2021</div>
<div class="t" style="left:1281px;top:559.23px;font-size:13.2px;line-height:18px;color:#626262;width:115px;text-align:center;">Jun 2021</div>
<div class="t" style="left:1396px;top:559.23px;font-size:13.2px;line-height:18px;color:#626262;width:115px;text-align:center;">Jul 2021</div>
<div class="r" style="left:368px;top:591px;width:1143px;height:86px;box-sizing:border-box;background:#fff;border:1px solid #dcdcdc;border-radius:0 0 3px 3px"></div>
<div class="r" style="left:368px;top:591px;width:1143px;height:56px;background:#f3f3f3;border-top:1px solid #dcdcdc;border-bottom:1px solid #cfcfcf;box-sizing:border-box"></div>
<div class="r" style="left:368px;top:591px;width:1px;height:56px;background:#dcdcdc"></div>
<div class="r" style="left:1510px;top:591px;width:1px;height:56px;background:#dcdcdc"></div>
<div class="t" style="left:391px;top:598.06px;font-size:13.4px;line-height:19px;color:#333;">Fray, Mel</div>
<div class="t" style="left:558.5px;top:598.00px;font-size:12.4px;line-height:17px;color:#1a8fcf;letter-spacing:0.7px;-webkit-text-stroke:0.3px #1a8fcf;">DETAILS</div>
<div class="t" style="left:617px;top:597.60px;font-size:13px;line-height:18px;color:#333;width:200px;text-align:right;">Total Effort</div>
<div class="t" style="left:617.5px;top:625.03px;font-size:12.6px;line-height:18px;color:#666;width:200px;text-align:right;">Remaining Usable Effort</div>
<div class="t" style="left:937px;top:597.53px;font-size:13.2px;line-height:18px;color:#333;width:115px;text-align:center;-webkit-text-stroke:0.2px #333;">112.00h</div>
<svg class="r" style="left:376px;top:632px" width="10" height="6" viewBox="0 0 10 6"><path d="M0 0 L10 0 L5 6Z" fill="#666"/></svg>
<div class="t" style="left:816px;top:624.90px;font-size:13px;line-height:18px;color:#666;width:115px;text-align:center;">100.00h</div>
<div class="t" style="left:931px;top:624.90px;font-size:13px;line-height:18px;color:#666;width:115px;text-align:center;">160.00h</div>
<div class="t" style="left:1046px;top:624.90px;font-size:13px;line-height:18px;color:#666;width:115px;text-align:center;">100.00h</div>
<div class="t" style="left:1160px;top:624.90px;font-size:13px;line-height:18px;color:#666;width:115px;text-align:center;">100.00h</div>
<div class="r" style="left:927px;top:619px;width:10px;height:27px;background:#feebcc"></div>
<svg class="r" style="left:927px;top:624.7px" width="10" height="16.899999999999977" viewBox="0 0 10 16.899999999999977"><path d="M5 2.1 V11.40" stroke="#ff6a00" stroke-width="2.2" stroke-linecap="round"/><path d="M1.6 10.30 H8.4 L5 15.50Z" fill="#ff6a00" stroke="#ff6a00" stroke-width="0.8" stroke-linejoin="round"/></svg>
<div class="r" style="left:1042px;top:619px;width:10px;height:27px;background:#feebcc"></div>
<svg class="r" style="left:1042px;top:624.7px" width="10" height="16.899999999999977" viewBox="0 0 10 16.899999999999977"><path d="M5 2.1 V11.40" stroke="#ff6a00" stroke-width="2.2" stroke-linecap="round"/><path d="M1.6 10.30 H8.4 L5 15.50Z" fill="#ff6a00" stroke="#ff6a00" stroke-width="0.8" stroke-linejoin="round"/></svg>
<div class="r" style="left:1156px;top:619px;width:10px;height:27px;background:#feebcc"></div>
<svg class="r" style="left:1156px;top:624.7px" width="10" height="16.899999999999977" viewBox="0 0 10 16.899999999999977"><path d="M5 2.1 V11.40" stroke="#ff6a00" stroke-width="2.2" stroke-linecap="round"/><path d="M1.6 10.30 H8.4 L5 15.50Z" fill="#ff6a00" stroke="#ff6a00" stroke-width="0.8" stroke-linejoin="round"/></svg>
<div class="r" style="left:1271px;top:619px;width:10px;height:27px;background:#feebcc"></div>
<svg class="r" style="left:1271px;top:624.7px" width="10" height="16.899999999999977" viewBox="0 0 10 16.899999999999977"><path d="M5 2.1 V11.40" stroke="#ff6a00" stroke-width="2.2" stroke-linecap="round"/><path d="M1.6 10.30 H8.4 L5 15.50Z" fill="#ff6a00" stroke="#ff6a00" stroke-width="0.8" stroke-linejoin="round"/></svg>
<div class="r" style="left:1386px;top:619px;width:10px;height:27px;background:#fdd5d8"></div>
<svg class="r" style="left:1386.2px;top:624.9px" width="10" height="16.5" viewBox="0 0 10 16.5"><path d="M5 14.40 V4.5" stroke="#ff0000" stroke-width="2.2" stroke-linecap="round"/><path d="M1.6 5.4 H8.4 L5 1.4Z" fill="#ff0000" stroke="#ff0000" stroke-width="0.8" stroke-linejoin="round"/></svg>
<div class="r" style="left:761px;top:647px;width:1px;height:29px;background:#e2e2e2"></div>
<div class="r" style="left:791px;top:647px;width:1px;height:29px;background:#e2e2e2"></div>
<div class="r" style="left:822px;top:647px;width:1px;height:29px;background:#e2e2e2"></div>
<div class="r" style="left:937px;top:647px;width:1px;height:29px;background:#e2e2e2"></div>
<div class="r" style="left:1052px;top:647px;width:1px;height:29px;background:#e2e2e2"></div>
<div class="r" style="left:1166px;top:647px;width:1px;height:29px;background:#e2e2e2"></div>
<div class="r" style="left:1281px;top:647px;width:1px;height:29px;background:#e2e2e2"></div>
<div class="r" style="left:1396px;top:647px;width:1px;height:29px;background:#e2e2e2"></div>
<div class="t" style="left:402.5px;top:654.60px;font-size:12.7px;line-height:18px;color:#444;">Documentation Migration</div>
<div class="t" style="left:937px;top:655.34px;font-size:12px;line-height:17px;color:#555;width:115px;text-align:center;">112.00h</div>
<svg class="r" style="left:767px;top:655px" width="19" height="15" viewBox="0 0 19 15"><rect x="0.5" y="0" width="1.9" height="14.7" fill="#707175"/><rect x="0.5" y="12.9" width="17.5" height="1.8" rx="0.5" fill="#707175"/><rect x="3.1" y="3.4" width="13.6" height="1.7" fill="#6c80c4"/><rect x="4.2" y="6.6" width="2.6" height="6.4" fill="#2ca03c"/><rect x="8.6" y="6.6" width="2.6" height="6.4" fill="#2ca03c"/><rect x="13.2" y="6.6" width="2.6" height="6.4" fill="#2ca03c"/></svg>
<svg class="r" style="left:805px;top:657px" width="5" height="12" viewBox="0 0 5 12"><rect x="0.9" y="0.9" width="2.4" height="2.2" rx="0.7" fill="#444"/><rect x="0.9" y="4.9" width="2.4" height="2.2" rx="0.7" fill="#444"/><rect x="0.9" y="8.9" width="2.4" height="2.2" rx="0.7" fill="#444"/></svg>
<div class="r" style="left:175.5px;top:46.8px;width:36px;height:36px;box-sizing:border-box;border-radius:50%;background:#be3560;border:2px solid #d2174c;box-shadow:0 2px 4px rgba(0,0,0,0.3)"></div>
<div class="r" style="left:901.7px;top:46.7px;width:36px;height:36px;box-sizing:border-box;border-radius:50%;background:#be3560;border:2px solid #d2174c;box-shadow:0 2px 4px rgba(0,0,0,0.3)"></div>
<svg class="r" style="left:186px;top:54px" width="12" height="20" viewBox="0 0 12 20"><path d="M3.9 6.1 L6.6 4.1" stroke="#fff" stroke-width="1.2" fill="none"/><rect x="6" y="3.9" width="1.8" height="12.1" fill="#fff"/></svg>
<svg class="r" style="left:912px;top:54px" width="14" height="20" viewBox="0 0 14 20"><path d="M3.6 6.9 C3.6 4.9 5 3.9 7 3.9 C9 3.9 10.5 5 10.5 6.9 C10.5 8.6 9.4 9.6 8 10.9 L3.4 15.3 H11.2" stroke="#fff" stroke-width="1.4" fill="none"/></svg>
<div class="r" style="left:1498px;top:704px;width:84px;height:84px;border-radius:50%;background:#0091cf;box-shadow:0 0 2px rgba(120,60,40,0.5)"></div>
<svg class="r" style="left:1513px;top:720px" width="15" height="13" viewBox="0 0 15 13"><rect x="0" y="4" width="3" height="8.5" fill="#fff"/><rect x="5" y="0.5" width="3" height="12" fill="#fff"/><rect x="10" y="7.5" width="3" height="5" fill="#fff"/></svg>
</div></body></html>
